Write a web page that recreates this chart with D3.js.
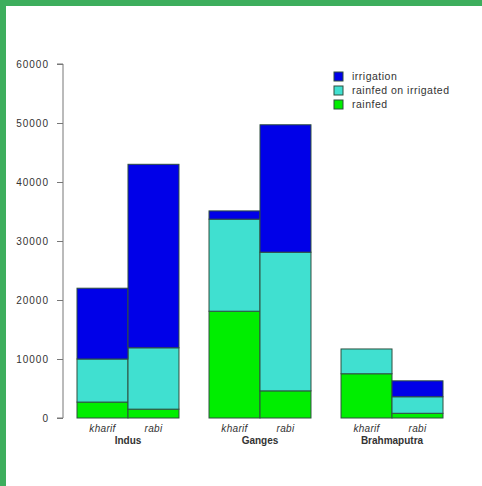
<!DOCTYPE html>
<html>
<head>
<meta charset="utf-8">
<script src="https://cdn.jsdelivr.net/npm/d3@7"></script>
<style>
  html, body { margin: 0; padding: 0; background: #fff; }
  svg { display: block; }
  text { font-family: "Liberation Sans", Arial, sans-serif; fill: #333; }
</style>
</head>
<body>
<svg id="chart" width="482" height="486"></svg>
<script>
// Basins, seasons and cropped area by water source
const basins = ["Indus", "Ganges", "Brahmaputra"];
const seasons = ["kharif", "rabi"];
const rainfed = [2700, 1500, 18100, 4600, 7500, 800];
const rainfedOnIrrigated = [7300, 10400, 15600, 23500, 4200, 2800];
const irrigation = [12000, 31100, 1400, 21600, 0, 2700];
const seriesNames = ["rainfed", "rainfed on irrigated", "irrigation"];
const seriesColors = ["#00ee00", "#40e0d0", "#0000e8"];
const yTicks = [0, 10000, 20000, 30000, 40000, 50000, 60000];
const legendOrder = ["irrigation", "rainfed on irrigated", "rainfed"];

const svg = d3.select("#chart");

// green frame along top and left edges
svg.append("rect").attr("x", 0).attr("y", 0).attr("width", 482).attr("height", 6).attr("fill", "#3dae5d");
svg.append("rect").attr("x", 0).attr("y", 0).attr("width", 6).attr("height", 486).attr("fill", "#3dae5d");

// one row per bar
const rows = [];
basins.forEach((b, bi) => {
  seasons.forEach((s, si) => {
    const i = bi * 2 + si;
    rows.push({ basin: b, season: s, key: b + "|" + s,
      "rainfed": rainfed[i], "rainfed on irrigated": rainfedOnIrrigated[i], "irrigation": irrigation[i] });
  });
});

const y = d3.scaleLinear().domain([0, 60000]).range([418, 64]);

const xGroup = d3.scaleBand().domain(basins).range([77, 443]).paddingInner(0.2275);
const xSeason = d3.scaleBand().domain(seasons).range([0, xGroup.bandwidth()]).padding(0);

const stack = d3.stack().keys(seriesNames);
const stacked = stack(rows);
const color = d3.scaleOrdinal().domain(seriesNames).range(seriesColors);

const barsG = svg.append("g");
stacked.forEach(layer => {
  barsG.selectAll(null)
    .data(layer.filter(d => d[1] - d[0] > 0))
    .join("rect")
    .attr("x", d => xGroup(d.data.basin) + xSeason(d.data.season))
    .attr("width", xSeason.bandwidth())
    .attr("y", d => y(d[1]))
    .attr("height", d => y(d[0]) - y(d[1]))
    .attr("fill", color(layer.key))
    .attr("stroke", "#2f4f3f")
    .attr("stroke-width", 1);
});

// y axis
const yAxis = d3.axisLeft(y).tickValues(yTicks).tickFormat(d3.format("d")).tickSize(6).tickPadding(8);
const ag = svg.append("g").attr("transform", "translate(63,0)").call(yAxis);
ag.select(".domain").attr("stroke", "#777").attr("d", "M-6,418H0V64H-6");
ag.selectAll(".tick line").attr("stroke", "#777");
ag.selectAll(".tick text").attr("font-size", 10).attr("fill", "#333")
  .attr("font-family", "Liberation Sans, Arial, sans-serif")
  .style("letter-spacing", "1px");

// season labels
rows.forEach(r => {
  svg.append("text")
    .attr("x", xGroup(r.basin) + xSeason(r.season) + xSeason.bandwidth() / 2)
    .attr("y", 432)
    .attr("text-anchor", "middle")
    .attr("font-size", 10)
    .attr("font-style", "italic")
    .style("letter-spacing", "0.3px")
    .text(r.season);
});

// basin labels
basins.forEach(b => {
  svg.append("text")
    .attr("x", xGroup(b) + xGroup.bandwidth() / 2)
    .attr("y", 444)
    .attr("text-anchor", "middle")
    .attr("font-size", 10)
    .attr("font-weight", "bold")
    .attr("fill", "#444")
    .text(b);
});

// legend
const lg = svg.append("g").attr("transform", "translate(334,72)");
legendOrder.forEach((name, i) => {
  lg.append("rect")
    .attr("x", 0).attr("y", i * 14)
    .attr("width", 9).attr("height", 9)
    .attr("fill", color(name))
    .attr("stroke", "#2f4f3f");
  lg.append("text")
    .attr("x", 18).attr("y", i * 14 + 8)
    .attr("font-size", 10.5)
    .style("letter-spacing", "0.5px")
    .text(name);
});
</script>
</body>
</html>
